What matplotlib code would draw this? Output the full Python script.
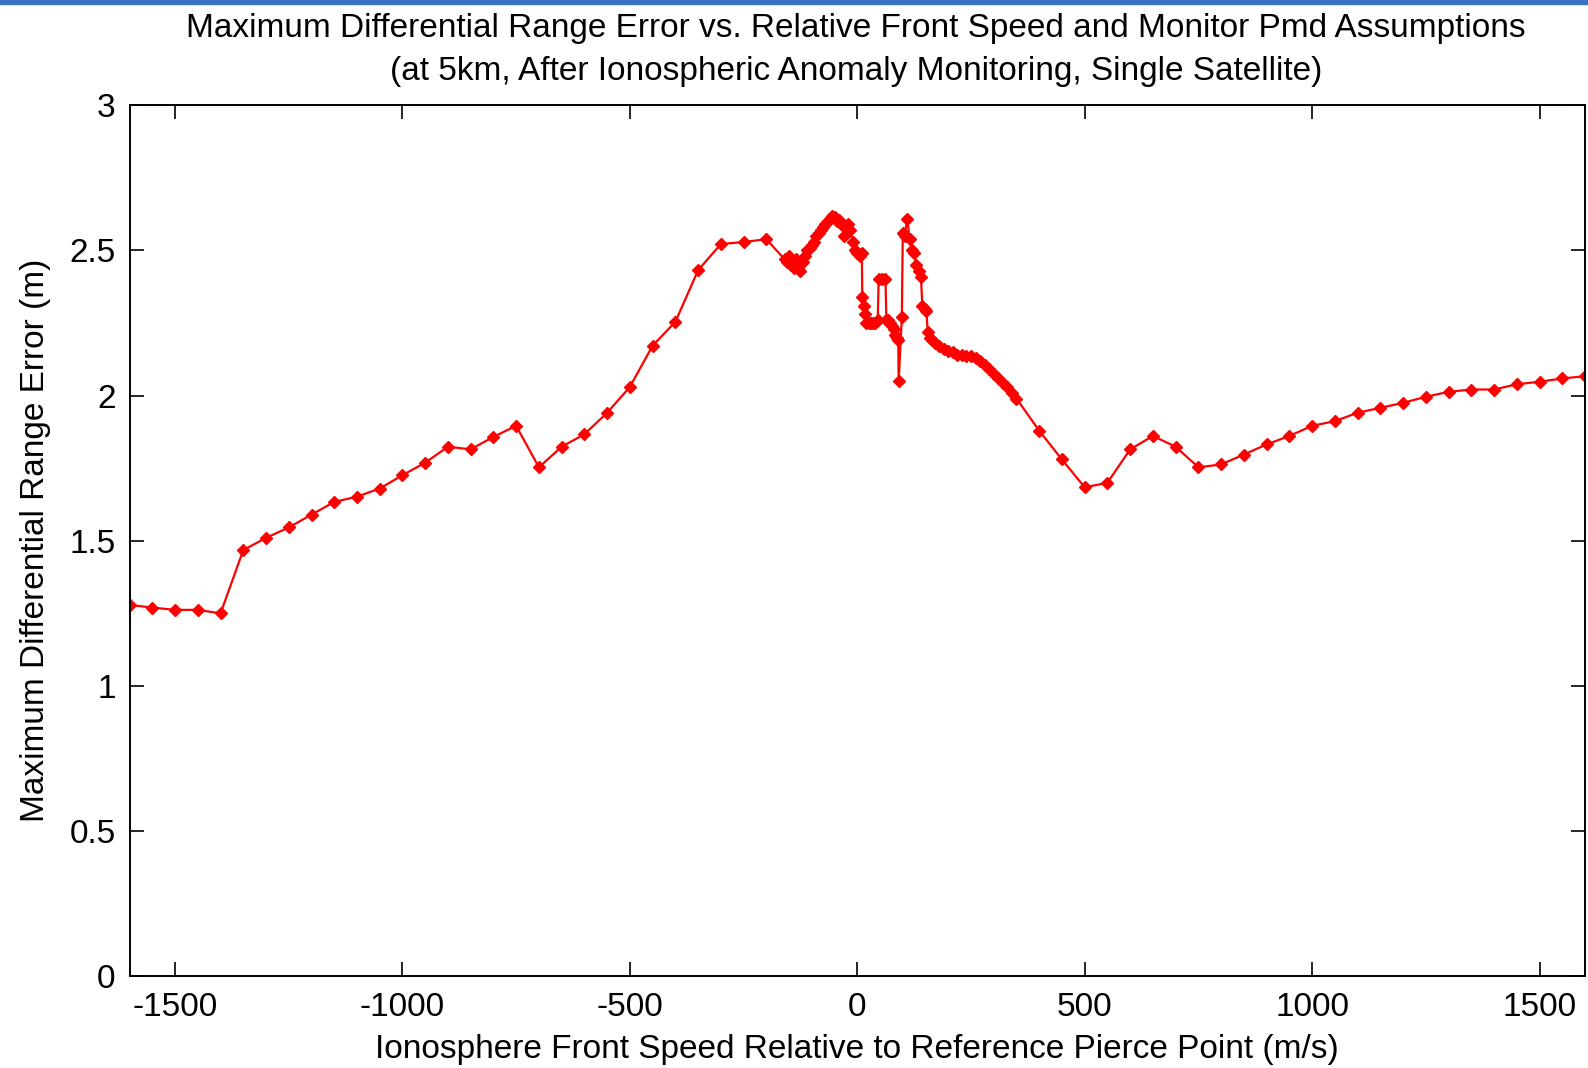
import matplotlib.pyplot as plt
from matplotlib.patches import Rectangle

plt.rcParams['font.family'] = ['Liberation Sans', 'DejaVu Sans']

# Front speed (m/s) and max differential range error (m)
speed = [
    -1600, -1550, -1500, -1450, -1400, -1350, -1300, -1250, -1200, -1150,
    -1100, -1050, -1000, -950, -900, -850, -800, -750, -700, -650,
    -600, -550, -500, -450, -400, -350, -300, -250, -200,
    -160, -155, -150, -145, -140, -135, -130, -125, -120, -115,
    -110, -105, -100, -95, -90, -85, -80, -75, -70, -65,
    -60, -55, -50, -45, -40, -35, -30, -25, -20, -15,
    -10, -5, 0, 5, 10, 11, 15, 18, 20, 25,
    30, 35, 40, 45, 47, 55, 62, 64, 68, 72,
    76, 80, 84, 88, 90, 91, 98, 100, 104, 110,
    115, 120, 125, 130, 135, 140, 143, 148, 152, 155,
    160, 165, 170, 180, 190, 200, 210, 220, 230, 240,
    250, 260, 270, 280, 290, 300, 310, 320, 330, 340,
    350, 400, 450, 500, 550, 600, 650, 700, 750, 800,
    850, 900, 950, 1000, 1050, 1100, 1150, 1200, 1250, 1300,
    1350, 1400, 1450, 1500, 1550, 1600,
]
error = [
    1.279, 1.270, 1.262, 1.262, 1.250, 1.468, 1.510, 1.546, 1.590, 1.634,
    1.652, 1.680, 1.726, 1.769, 1.824, 1.815, 1.858, 1.896, 1.753, 1.824,
    1.867, 1.941, 2.030, 2.172, 2.254, 2.432, 2.522, 2.529, 2.539,
    2.470, 2.460, 2.480, 2.450, 2.440, 2.470, 2.450, 2.430, 2.460, 2.480,
    2.500, 2.510, 2.520, 2.530, 2.550, 2.560, 2.570, 2.580, 2.590, 2.600,
    2.610, 2.620, 2.615, 2.600, 2.605, 2.590, 2.550, 2.580, 2.590, 2.570,
    2.530, 2.500, 2.490, 2.480, 2.490, 2.340, 2.310, 2.280, 2.250, 2.250,
    2.250, 2.250, 2.250, 2.260, 2.400, 2.400, 2.400, 2.260, 2.260, 2.250,
    2.240, 2.230, 2.210, 2.200, 2.190, 2.050, 2.270, 2.560, 2.550, 2.610,
    2.540, 2.500, 2.490, 2.450, 2.430, 2.410, 2.310, 2.300, 2.290, 2.220,
    2.200, 2.190, 2.180, 2.170, 2.160, 2.155, 2.150, 2.140, 2.140, 2.135,
    2.135, 2.130, 2.120, 2.105, 2.090, 2.075, 2.060, 2.045, 2.030, 2.010,
    1.990, 1.879, 1.780, 1.684, 1.700, 1.815, 1.861, 1.824, 1.753, 1.763,
    1.797, 1.832, 1.861, 1.896, 1.912, 1.941, 1.958, 1.975, 1.996, 2.013,
    2.021, 2.021, 2.039, 2.048, 2.059, 2.067,
]

x_ticks = [-1500, -1000, -500, 0, 500, 1000, 1500]
y_ticks = [0, 0.5, 1, 1.5, 2, 2.5, 3]

fig = plt.figure(figsize=(15.88, 10.68), dpi=100)
ax = fig.add_axes([0.0816, 0.0859, 0.9165, 0.8155])

# ---- Data ----
ax.plot(speed, error, color='#ff0000', linewidth=1.6,
        marker='D', markersize=6.5, markeredgewidth=1.0)

ax.set_xlim(-1600, 1600)
ax.set_ylim(0, 3)
ax.set_xticks(x_ticks)
ax.set_xticklabels([str(t) for t in x_ticks])
ax.set_yticks(y_ticks)
ax.set_yticklabels(['0', '0.5', '1', '1.5', '2', '2.5', '3'])

# MATLAB style box with inward ticks
ax.tick_params(direction='in', length=10, width=1.2, top=True, right=True,
               labelsize=24, colors='black')
ax.tick_params(axis='x', pad=11)
ax.tick_params(axis='y', pad=10)
for s in ax.spines.values():
    s.set_linewidth(1.4)

# ---- Labels ----
ax.set_xlabel('Ionosphere Front Speed Relative to Reference Pierce Point (m/s)',
              fontsize=24, labelpad=8)
ax.set_ylabel('Maximum Differential Range Error (m)', fontsize=24, labelpad=13)
fig.text(0.539, 0.973,
         'Maximum Differential Range Error vs. Relative Front Speed and Monitor Pmd Assumptions',
         ha='center', va='center', fontsize=24)
fig.text(0.539, 0.933,
         '(at 5km, After Ionospheric Anomaly Monitoring, Single Satellite)',
         ha='center', va='center', fontsize=24)

# blue strip along the top edge
fig.patches.append(Rectangle((0, 0.996), 1, 0.004, transform=fig.transFigure,
                             color='#3a72c4', zorder=5))

fig.savefig('out.png', dpi=100)
